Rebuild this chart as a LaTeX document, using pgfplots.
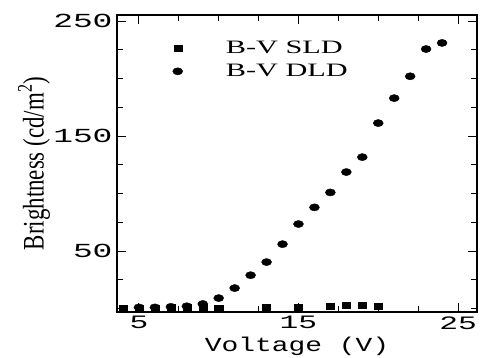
\documentclass[border=0pt]{standalone}
\usepackage{pgfplots}
\pgfplotsset{compat=1.18}
\usepackage{graphicx}
\usepackage{fontspec}
\setmainfont{Liberation Serif}
\newfontfamily\tickfont{Liberation Mono}[FakeStretch=1.65]
\newfontfamily\xlabfont{Liberation Mono}[FakeStretch=1.4]
\newfontfamily\legfont{Liberation Serif}[FakeStretch=1.6]
\newfontfamily\ylabfont{Liberation Serif}

\pgfplotstableread{
x y
4 0.5
5 0.5
6 0.5
7 1
8 1
9 1
10 0.5
13 1
15 1
17 2
18 3
19 3
20 2
}\sld

\pgfplotstableread{
x y
5 1
6 1
7 1.5
8 2
9 4
10 9.1
11 17.8
12 29
13 40.4
14 56
15 73.5
16 88
17 101
18 118.7
19 131.7
20 161.3
21 183
22 202
23 225.7
24 231
}\dld

\begin{document}
\begin{tikzpicture}
\useasboundingbox (-117bp,-46bp) rectangle (366bp,312bp);
\begin{axis}[
  scale only axis,
  width=360bp, height=297bp,
  xmin=3.625, xmax=26.19,
  ymin=-3, ymax=255.3,
  xtick={5,15,25},
  minor xtick={2.5,7.5,10,12.5,17.5,20,22.5},
  ytick={50,150,250},
  minor ytick={0,25,75,100,125,175,200,225},
  tick align=inside,
  xtick pos=both, ytick pos=both,
  major tick length=9bp,
  minor tick length=6bp,
  every tick/.style={black, line width=1pt},
  axis line style={line width=2.6pt},
  xticklabel style={font=\fontsize{19}{19}\selectfont\tickfont, yshift=-1bp},
  yticklabel style={font=\fontsize{20}{20}\selectfont\tickfont, xshift=-1bp},
  xticklabel={\pgfmathprintnumber[assume math mode=true]{\tick}},
  yticklabel={\pgfmathprintnumber[assume math mode=true]{\tick}},
  xlabel={\xlabfont Voltage (V)},
  every axis x label/.style={font=\fontsize{20}{20}\selectfont, at={([yshift=-34bp]axis description cs:0.5,0)}, anchor=center},
  ylabel={\scalebox{1}[1.3]{\ylabfont Brightness (cd/m\textsuperscript{2})}},
  every axis y label/.style={font=\fontsize{23}{23}\selectfont, at={([xshift=-83bp]axis description cs:0,0.5)}, rotate=90, anchor=center},
  legend style={at={(axis cs:6.9,236)}, anchor=north west, draw=none, fill=none,
     font=\fontsize{19}{19}\selectfont\legfont, row sep=5bp},
  legend cell align=left,
  legend image code/.code={\path (0cm,0cm) (1.8cm,0cm); \draw plot coordinates {(0.18cm,0cm)};},
]
\addplot[only marks, mark=square*, mark size=3pt, mark options={xscale=1.35, fill=black}] table[x=x,y=y] {\sld};
\addlegendentry{B-V SLD}
\addplot[only marks, mark=*, mark size=3.6pt, mark options={xscale=1.4, fill=black}] table[x=x,y=y] {\dld};
\addlegendentry{B-V DLD}
\end{axis}
\end{tikzpicture}
\end{document}
